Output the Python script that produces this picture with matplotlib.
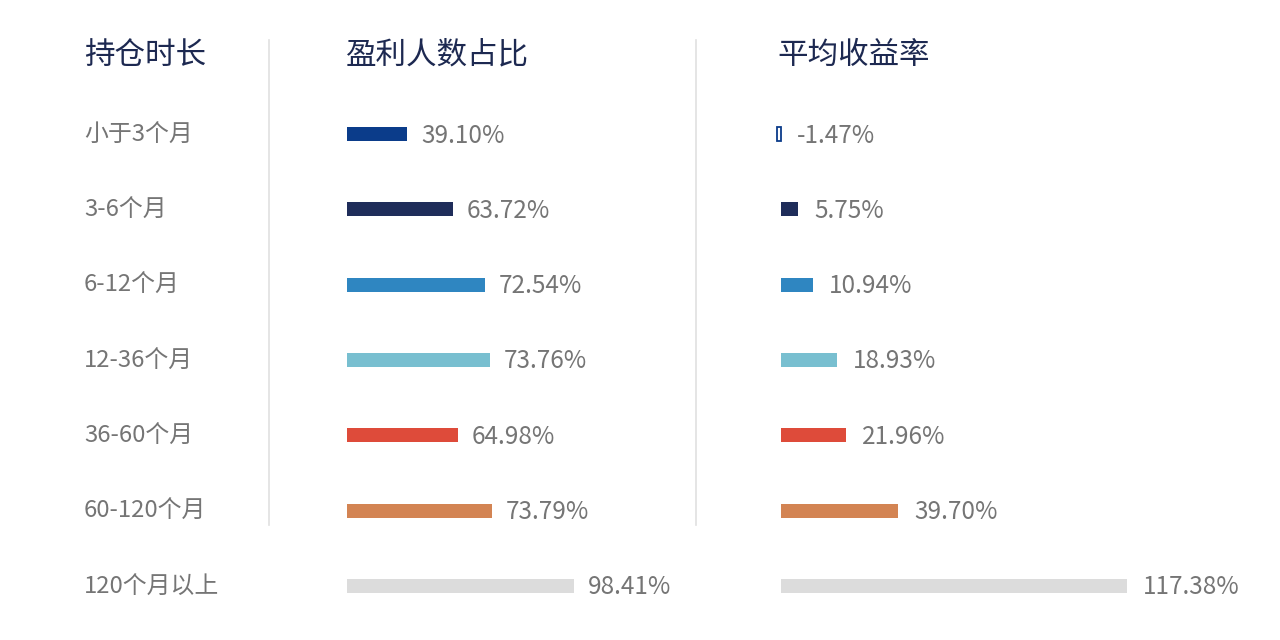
import matplotlib
matplotlib.use("Agg")
import matplotlib.pyplot as plt
from matplotlib.lines import Line2D

plt.rcParams['font.family'] = ['Noto Sans CJK SC', 'DejaVu Sans']

headers = ['持仓时长', '盈利人数占比', '平均收益率']
periods = ['小于3个月', '3-6个月', '6-12个月', '12-36个月', '36-60个月', '60-120个月', '120个月以上']
profit_share = [39.10, 63.72, 72.54, 73.76, 64.98, 73.79, 98.41]
# drawn bar lengths in the source graphic are not proportional to the labels
profit_bar_len = [60, 106, 138, 143, 111, 145, 227]
avg_return = [-1.47, 5.75, 10.94, 18.93, 21.96, 39.70, 117.38]
colors = ['#0b3c8a', '#1f2d5a', '#2f86c1', '#78bfd0', '#de4b3a', '#d38453', '#dcdcdc']

W, H = 1280, 640
fig = plt.figure(figsize=(12.8, 6.4), dpi=100)
fig.patch.set_facecolor('white')

row0, step = 134, 75.33
ylim = ((H - row0) / step, -row0 / step)
bar_h = 14 / step
navy = '#1d2951'
grey = '#757575'

# left label column
for i, p in enumerate(periods):
    fig.text(84 / W, 1 - (row0 + 1 + i * step) / H, p, fontsize=17.2, color=grey,
             ha='left', va='center')

header_x = [84, 346, 777]
for hx, h in zip(header_x, headers):
    fig.text(hx / W, 1 - 55 / H, h, fontsize=22, color=navy, ha='left', va='center')

# separators
for sx in [269, 696]:
    fig.add_artist(Line2D([sx / W, sx / W], [1 - 40 / H, 1 - 525 / H],
                          color='#e0e0e0', lw=1.2))

rows = list(range(len(periods)))

# profit share column
ax1 = fig.add_axes([347 / W, 0, 330 / W, 1])
ax1.barh(rows, profit_bar_len, height=bar_h, color=colors, left=0)
for i, (ln, v) in enumerate(zip(profit_bar_len, profit_share)):
    ax1.text(ln + 14, i + 0.02, f'{v:.2f}%', fontsize=17.5, color=grey,
             ha='left', va='center')
ax1.set_xlim(0, 330)
ax1.set_ylim(*ylim)
ax1.axis('off')

# average return column
scale = 2.95
ax2 = fig.add_axes([770 / W, 0, 500 / W, 1])
face = ['white' if v < 0 else c for v, c in zip(avg_return, colors)]
widths = [1.3 if v < 0 else 0 for v in avg_return]
ax2.barh(rows, avg_return, height=bar_h, color=face, edgecolor=colors, linewidth=widths)
for i, v in enumerate(avg_return):
    ax2.text(max(v, 0) + 16 / scale, i + 0.02, f'{v:.2f}%', fontsize=17.5, color=grey,
             ha='left', va='center')
ax2.set_xlim(-11 / scale, (500 - 11) / scale)
ax2.set_ylim(*ylim)
ax2.axis('off')

fig.savefig('out.png', dpi=100, facecolor='white')
